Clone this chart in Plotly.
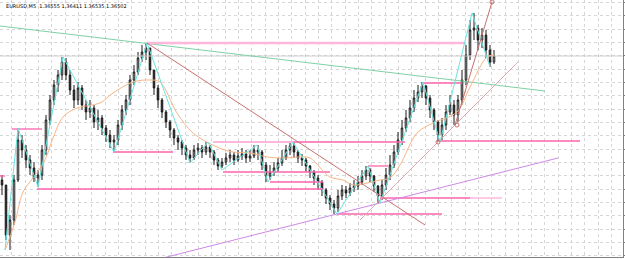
import plotly.graph_objects as go

# ---------------- data (prices in points, 1 point = 0.00001) ----------------
bars = list(range(124))
closes = [135875,135625,135700,135900,136100,136050,136000,135960,135910,135925,
          136050,136200,136300,136375,136425,136490,136425,136350,136300,136360,
          136275,136240,136260,136190,136210,136160,136125,136090,136100,136175,
          136250,136300,136400,136440,136510,136540,136560,136450,136360,136300,
          136240,136190,136150,136110,136090,136060,136025,136010,136050,136060,
          136040,136065,136040,136000,135970,135990,136010,136025,136000,136020,
          136030,136010,136020,136050,136040,135975,135920,135940,135960,135985,
          136010,136050,136070,136040,136010,136000,135970,135940,135910,135890,
          135850,135810,135780,135760,135820,135850,135835,135860,135870,135890,
          135920,135950,135920,135870,135820,135875,135925,135975,136040,136100,
          136160,136210,136260,136310,136340,136370,136310,136250,136190,136125,
          136175,136240,136275,136225,136300,136400,136525,136650,136660,136600,
          136625,136550,136490,136520]
highs = [135925,135875,135725,135925,136160,136125,136075,136025,135990,135950,
         136075,136225,136325,136400,136450,136515,136510,136450,136375,136390,
         136375,136300,136300,136275,136250,136225,136175,136150,136125,136200,
         136275,136325,136425,136475,136540,136575,136585,136560,136450,136375,
         136310,136250,136200,136160,136125,136100,136075,136050,136075,136085,
         136075,136090,136075,136050,136010,136010,136035,136050,136040,136050,
         136060,136050,136050,136075,136075,136050,135990,135975,135990,136010,
         136050,136075,136090,136085,136050,136030,136010,135975,135950,135925,
         135900,135860,135825,135800,135850,135875,135870,135885,135900,135920,
         135950,135970,135960,135925,135875,135900,135960,136025,136075,136140,
         136200,136250,136300,136350,136375,136390,136375,136325,136260,136200,
         136210,136275,136325,136300,136325,136450,136575,136700,136735,136675,
         136660,136650,136575,136550]
lows = [135825,135600,135550,135675,135890,136010,135960,135925,135890,135865,
        135900,136025,136175,136275,136340,136400,136400,136325,136260,136275,
        136250,136200,136210,136160,136150,136125,136090,136060,136040,136075,
        136150,136225,136275,136375,136425,136490,136500,136425,136325,136260,
        136210,136160,136110,136075,136050,136025,136000,135985,136000,136025,
        136010,136025,136010,135975,135950,135960,135975,135990,135975,135990,
        136000,135985,135990,136010,136000,135950,135890,135900,135920,135940,
        135970,136000,136025,136010,135985,135970,135940,135910,135875,135850,
        135820,135780,135750,135730,135740,135800,135810,135820,135840,135850,
        135875,135900,135890,135840,135785,135800,135850,135900,135960,136025,
        136075,136140,136190,136240,136290,136310,136275,136210,136150,136090,
        136100,136150,136225,136175,136190,136275,136375,136500,136600,136550,
        136560,136510,136465,136480]
first_open = 135900

# moving average
ma_bar = [0.75,3.25,5.25,7.75,10.75,12.75,15.25,18.75,24.5,27.75,32.75,37,39.5,43.75,
          47.75,53.75,57.75,62,66.25,70.25,74.5,77,82,85.25,87.75,91.25,94.5,97,99.5,
          103.75,107.75,113.75,117,121.25,123]
ma_val = [135550,135690,135840,135910,136000,136110,136215,136260,136285,136335,136390,
          136400,136390,136235,136135,136065,136040,136035,136015,136010,136015,136010,
          135915,135900,135875,135885,135900,135910,135975,136135,136185,136240,136365,
          136515,136525]

# zigzag
zz_bar = [0.75,4,9,15.25,28,36.25,47,51.5,55,63.75,66.5,72.75,83.75,91.5,94.5,105.25,109.5,117.5,122]
zz_val = [135550,136160,135865,136515,136040,136585,135985,136090,135950,136075,135890,
          136090,135730,135970,135785,136390,136090,136735,136465]

# trend lines: (bar1, price1, bar2, price2)
green_line = (-0.5, 136670, 135.75, 136345)
red_lines = [(36.25, 136585, 105.75, 135675),
             (89.5, 135700, 129.0, 136490),
             (113.25, 136175, 122.5, 136790)]
violet_line = (40.25, 135510, 139.0, 136010)

# horizontal levels: (bar start, bar end, price)
hot_levels = [(2.5, 10, 136155), (-0.5, 0.75, 135920), (27.75, 42.75, 136040),
              (8.75, 80.25, 135855), (55.25, 82, 135940), (67, 80.25, 135890),
              (72.75, 100.75, 136090), (109.5, 144.5, 136095), (105, 115, 136385),
              (91.5, 96.5, 135970), (94.5, 117, 135810), (83.75, 110, 135730)]
light_levels = [(36.25, 115.75, 136585, 2.5), (52.75, 72.75, 136090, 2),
                (117, 125, 135810, 1.5)]
current_price = 136520

marker_bar = [109, 113.75, 122.5]
marker_val = [136090, 136175, 136790]

header = "EURUSD,M5  1.36555 1.36411 1.36535 1.36502"

# ---------------- figure ----------------
P = 1e-5
opens = [first_open] + closes[:-1]

fig = go.Figure()

fig.add_trace(go.Candlestick(
    x=bars, open=[v*P for v in opens], high=[v*P for v in highs],
    low=[v*P for v in lows], close=[v*P for v in closes],
    increasing=dict(line=dict(color="#1a1a1a", width=1), fillcolor="#ffffff"),
    decreasing=dict(line=dict(color="#1a1a1a", width=1), fillcolor="#2a2a2a"),
    whiskerwidth=0, showlegend=False, hoverinfo="skip"))

def seg(x0, y0, x1, y1, color, width, dash=None):
    fig.add_trace(go.Scatter(x=[x0, x1], y=[y0*P, y1*P], mode="lines",
                             line=dict(color=color, width=width, dash=dash),
                             showlegend=False, hoverinfo="skip"))

# current price line
seg(-1, current_price, 160, current_price, "#cfcfcf", 1)

seg(*green_line, "#7fd0a4", 1)
for (a, b, p, w) in light_levels:
    seg(a, p, b, p, "#ffb8dc", w)
for (a, b, p) in hot_levels:
    seg(a, p, b, p, "#ff62ac", 1.3)
seg(*violet_line, "#cf88e8", 1)

fig.add_trace(go.Scatter(x=ma_bar, y=[v*P for v in ma_val], mode="lines",
                         line=dict(color="#f7b585", width=1, shape="spline"),
                         showlegend=False, hoverinfo="skip"))
fig.add_trace(go.Scatter(x=zz_bar, y=[v*P for v in zz_val], mode="lines",
                         line=dict(color="#6ae4e0", width=1),
                         showlegend=False, hoverinfo="skip"))
red_colors = ["#c87070", "#dca4a4", "#c87070"]
red_widths = [1, 0.9, 1]
for ln, col, w in zip(red_lines, red_colors, red_widths):
    seg(*ln, col, w)
fig.add_trace(go.Scatter(x=marker_bar, y=[v*P for v in marker_val], mode="markers",
                         marker=dict(symbol="circle-open", size=4, color="#c87070"),
                         showlegend=False, hoverinfo="skip"))

fig.add_annotation(text=header, xref="paper", yref="paper", x=0.007, y=0.995,
                   xanchor="left", yanchor="top", showarrow=False,
                   font=dict(family="DejaVu Sans", size=5, color="#000000"))

fig.update_layout(
    width=625, height=259, margin=dict(l=0, r=2, t=0, b=2),
    paper_bgcolor="#ffffff", plot_bgcolor="#ffffff", boxgap=0.45,
    xaxis=dict(range=[-0.5, 155.25], showgrid=True, gridcolor="#d6d6d6", griddash="dot",
               gridwidth=1, tick0=2.4167, dtick=3.3333, showticklabels=False,
               zeroline=False, showline=True, linecolor="#808080", mirror=True,
               rangeslider=dict(visible=False), fixedrange=True),
    yaxis=dict(range=[1.35515, 1.36800], showgrid=True, gridcolor="#d6d6d6", griddash="dot",
               gridwidth=1, tick0=1.367867, dtick=0.00066667, showticklabels=False,
               zeroline=False, showline=True, linecolor="#808080", mirror=True,
               side="right", ticks="outside", ticklen=2, tickcolor="#808080"),
)

fig.write_html("out.html")
